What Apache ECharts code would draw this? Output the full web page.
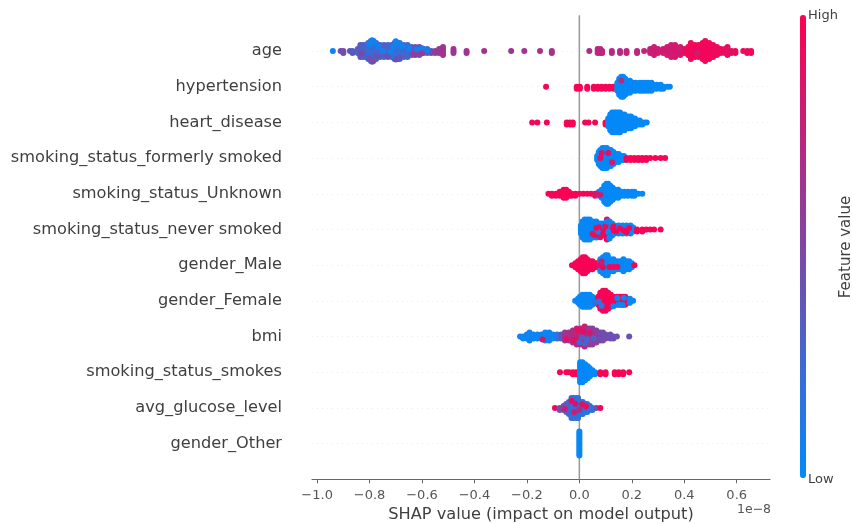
<!DOCTYPE html>
<html><head><meta charset="utf-8">
<style>html,body{margin:0;padding:0;background:#fff}#c{width:852px;height:524px;filter:blur(0.45px)}</style>
<script src="https://cdn.jsdelivr.net/npm/echarts@6/dist/echarts.min.js"></script>
</head><body><div id="c"></div>
<script>
const features = ['age','hypertension','heart_disease','smoking_status_formerly smoked','smoking_status_Unknown','smoking_status_never smoked','gender_Male','gender_Female','bmi','smoking_status_smokes','avg_glucose_level','gender_Other'];
const xTicks = [-1.0,-0.8,-0.6,-0.4,-0.2,0.0,0.2,0.4,0.6];
const stackStep = 0.056;

// columns: [SHAP value, dots stacked in the column, feature value 0-1]
const ageColumns = [[-0.94,1,.05],[-0.91,1,.45],[-0.90,2,.45],[-0.875,1,.38],[-0.865,2,.35],[-0.845,3,.3],[-0.835,7,.38],[-0.825,7,.3],[-0.815,7,.28],[-0.805,9,.25],[-0.795,11,.2],[-0.785,11,.22],[-0.775,9,.25],[-0.76,7,.3],[-0.745,7,.32],[-0.73,7,.25],[-0.715,7,.3],[-0.705,9,.2],[-0.695,9,.2],[-0.685,9,.2],[-0.67,7,.25],[-0.655,7,.25],[-0.64,5,.33],[-0.625,5,.4],[-0.61,5,.45],[-0.595,3,.35],[-0.58,3,.3],[-0.565,2,.4],[-0.55,2,.55],[-0.535,3,.6],[-0.52,5,.63],[-0.48,3,.62],[-0.43,2,.63],[-0.363,1,.63],[-0.26,1,.63],[-0.21,1,.63],[-0.15,1,.65],[-0.105,2,.65],[0.038,1,.68],[0.07,3,.72],[0.08,3,.72],[0.087,2,.75],[0.124,2,.7],[0.155,2,.72],[0.18,2,.75],[0.22,2,.72],[0.247,1,.75],[0.27,3,.78],[0.285,5,.8],[0.30,3,.8],[0.32,3,.82],[0.335,5,.82],[0.35,7,.8],[0.365,7,.83],[0.385,5,.85],[0.40,3,.88],[0.415,5,.95],[0.425,9,.94],[0.44,7,.95],[0.455,7,.94],[0.47,9,.95],[0.48,11,.95],[0.495,9,.95],[0.51,7,.94],[0.525,5,.93],[0.54,3,.93],[0.555,3,.92],[0.565,5,.9],[0.58,2,.9],[0.595,2,.93],[0.625,1,.92],[0.64,2,.92],[0.655,2,.95]];
const ageAccents = [[-.79,-.3,.05],[-.78,-.24,.08],[-.80,-.18,.06],[-.765,-.12,.08],[-.70,-.27,.05],[-.69,-.2,.07],[-.675,-.14,.06],[-.71,-.12,.08],[-.65,-.08,.07],[-.62,-.05,.1],[-.60,-.08,.08],[-.58,-.03,.08],[-.79,.3,.5],[-.80,.2,.45],[-.775,.14,.42],[-.70,.24,.45],[-.685,.18,.42],[-.73,.14,.4],[-.63,.1,.58],[-.6,.06,.58],[-.83,.08,.48],[-.75,0,.1],[-.72,.03,.1],[.45,.06,.78],[.38,-.08,.8]];

const hypertensionColumns = [[-0.127,1,.97],[-0.01,2,.97],[0.002,2,.97],[0.03,2,.97],[0.055,2,.97],[0.07,2,.97],[0.085,2,.97],[0.10,2,.97],[0.115,2,.97],[0.13,2,.97],[0.145,5,.02],[0.152,9,.02],[0.16,11,.02],[0.167,11,.02],[0.175,9,.02],[0.183,7,.02],[0.193,7,.02],[0.205,5,.02],[0.215,5,.02],[0.23,5,.02],[0.24,5,.02],[0.25,5,.02],[0.262,5,.02],[0.275,5,.02],[0.285,3,.02],[0.295,3,.02],[0.31,3,.02],[0.32,2,.02],[0.335,1,.02],[0.345,1,.02]];
const hypertensionAccents = [[.16,-.17,.7]];

const heartColumns = [[-0.18,1,.97],[-0.16,1,.97],[-0.124,1,.97],[-0.048,2,.97],[-0.036,2,.97],[-0.025,2,.97],[0.022,1,.97],[0.035,1,.97],[0.06,1,.97],[0.10,2,.97],[0.11,5,.02],[0.118,9,.02],[0.125,11,.02],[0.133,11,.02],[0.14,11,.02],[0.148,11,.02],[0.155,11,.02],[0.163,9,.02],[0.172,9,.02],[0.18,7,.02],[0.188,7,.02],[0.197,7,.02],[0.205,5,.02],[0.212,5,.02],[0.22,3,.02],[0.23,3,.02],[0.24,2,.02],[0.25,1,.02],[0.257,1,.02]];

const formerlyColumns = [[0.068,3,.02],[0.074,7,.02],[0.08,9,.02],[0.088,11,.02],[0.096,11,.02],[0.105,11,.02],[0.112,9,.02],[0.12,9,.02],[0.13,7,.02],[0.14,5,.02],[0.15,5,.02],[0.16,3,.02],[0.17,3,.02],[0.18,2,.97],[0.195,2,.97],[0.21,2,.97],[0.225,2,.97],[0.24,2,.97],[0.255,2,.97],[0.27,1,.97],[0.29,1,.97],[0.31,1,.97],[0.327,1,.97]];
const formerlyAccents = [[.085,-.14,.9],[.11,-.14,.92],[.125,.12,.85],[.08,0,.9]];

const unknownColumns = [[-0.118,1,.97],[-0.105,2,.97],[-0.09,2,.97],[-0.075,3,.97],[-0.06,5,.97],[-0.05,5,.97],[-0.04,3,.97],[-0.03,2,.97],[-0.015,2,.97],[0.0,1,.97],[0.015,1,.97],[0.03,1,.97],[0.045,1,.97],[0.06,2,.9],[0.075,3,.1],[0.085,5,.02],[0.095,9,.02],[0.103,11,.02],[0.11,11,.02],[0.118,9,.02],[0.127,7,.02],[0.135,5,.02],[0.148,5,.02],[0.16,3,.02],[0.172,3,.02],[0.185,3,.02],[0.2,3,.02],[0.21,3,.02],[0.225,1,.02],[0.24,1,.02]];
const unknownAccents = [[.065,0,.85],[.08,.03,.8]];

const neverColumns = [[0.006,5,.03],[0.012,9,.03],[0.02,11,.03],[0.03,11,.03],[0.04,11,.03],[0.052,9,.03],[0.065,9,.04],[0.08,7,.05],[0.09,7,.05],[0.105,11,.97],[0.115,9,.04],[0.125,7,.04],[0.135,5,.04],[0.15,5,.04],[0.165,5,.04],[0.18,5,.04],[0.195,5,.03],[0.205,3,.03],[0.22,2,.97],[0.24,2,.97],[0.255,1,.97],[0.27,1,.97],[0.285,1,.97],[0.31,1,.97]];
const neverAccents = [[.06,.16,.9],[.075,-.06,.92],[.08,.22,.85],[.085,.05,.95],[.095,.14,.97],[.1,-.1,.97],[.125,.02,.97],[.14,.06,.97],[.155,-.03,.96],[.17,.03,.97],[.19,-.04,.97],[.105,-.22,.04],[.115,.25,.03],[.07,.05,.05],[.18,.07,.97],[.05,.12,.9],[.065,-.04,.9],[.13,-.08,.97],[.11,.07,.03]];

const maleColumns = [[-0.028,1,.97],[-0.015,3,.97],[-0.005,5,.97],[0.005,7,.97],[0.013,9,.97],[0.022,9,.97],[0.03,7,.97],[0.04,5,.97],[0.05,5,.97],[0.06,3,.97],[0.07,3,.97],[0.08,7,.03],[0.09,9,.03],[0.1,11,.03],[0.108,11,.03],[0.118,7,.03],[0.13,7,.03],[0.143,5,.03],[0.155,5,.03],[0.168,7,.03],[0.18,5,.03],[0.19,5,.03],[0.2,3,.03],[0.21,1,.97]];
const maleAccents = [[.09,.06,.97],[.115,.05,.97],[.13,.05,.96],[.145,.05,.95],[.075,0,.9],[.085,-.1,.85]];

const femaleColumns = [[-0.016,1,.03],[-0.005,3,.03],[0.002,5,.03],[0.012,7,.03],[0.022,7,.03],[0.03,7,.03],[0.04,7,.03],[0.05,5,.03],[0.062,3,.03],[0.072,5,.97],[0.08,9,.97],[0.09,11,.97],[0.1,11,.97],[0.11,9,.97],[0.12,7,.97],[0.13,5,.97],[0.143,5,.97],[0.155,5,.97],[0.165,5,.97],[0.175,5,.97],[0.185,3,.97],[0.193,3,.03],[0.205,1,.03]];
const femaleAccents = [[.085,.14,.1],[.075,.02,.15],[.13,.15,.04],[.15,.1,.05],[.145,-.08,.05],[.17,-.09,.04],[.165,.12,.05],[.06,.05,.2]];

const bmiColumns = [[-0.226,1,.06],[-0.215,2,.06],[-0.2,3,.06],[-0.19,5,.05],[-0.175,3,.05],[-0.16,3,.05],[-0.145,3,.06],[-0.13,5,.05],[-0.115,5,.05],[-0.1,3,.06],[-0.085,3,.12],[-0.07,3,.35],[-0.055,5,.6],[-0.04,5,.65],[-0.025,7,.68],[-0.01,9,.75],[0.005,9,.72],[0.02,11,.8],[0.03,9,.68],[0.04,9,.6],[0.05,9,.55],[0.065,7,.55],[0.08,5,.48],[0.09,5,.45],[0.1,3,.45],[0.118,3,.42],[0.13,2,.42],[0.143,1,.42],[0.19,1,.42]];
const bmiAccents = [[-.02,.1,.9],[-.005,-.18,.9],[.01,.02,.3],[.015,-.14,.92],[.02,.2,.3],[.03,.08,.25],[.0,.16,.25],[-.05,.07,.9],[.04,-.1,.85],[-.14,.08,.9],[.055,.05,.3]];

const smokesColumns = [[-0.074,1,.97],[-0.05,1,.97],[-0.04,1,.97],[-0.025,2,.97],[-0.012,2,.97],[0.003,11,.02],[0.012,11,.02],[0.022,9,.02],[0.032,7,.02],[0.04,5,.02],[0.05,3,.02],[0.06,2,.02],[0.08,2,.97],[0.1,2,.97],[0.135,2,.97],[0.15,2,.97],[0.167,2,.97],[0.19,1,.97]];

const glucoseColumns = [[-0.093,1,.97],[-0.075,2,.4],[-0.06,3,.5],[-0.05,5,.35],[-0.04,7,.3],[-0.03,11,.25],[-0.022,11,.15],[-0.013,11,.18],[-0.005,11,.2],[0.005,7,.12],[0.013,7,.18],[0.022,5,.18],[0.03,5,.15],[0.04,3,.18],[0.05,2,.2],[0.065,1,.4],[0.08,1,.97]];
const glucoseAccents = [[-.03,-.2,.9],[-.015,-.12,.92],[.01,-.1,.9],[.025,-.05,.92],[-.02,.12,.8],[-.055,.03,.8],[.0,.05,.7]];

const otherColumns = [[0.0,13,.03]];

const rowColumns = [ageColumns,hypertensionColumns,heartColumns,formerlyColumns,unknownColumns,neverColumns,maleColumns,femaleColumns,bmiColumns,smokesColumns,glucoseColumns,otherColumns];
const rowAccents = [ageAccents,hypertensionAccents,[],formerlyAccents,unknownAccents,neverAccents,maleAccents,femaleAccents,bmiAccents,[],glucoseAccents,[]];

const points = [];
rowColumns.forEach((cols,row)=>{
  cols.forEach(([x,n,f])=>{
    for(let k=0;k<n;k++){
      const off = Math.ceil(k/2)*(k%2*2-1)*stackStep;
      points.push([x,row+off,f]);
    }
  });
  rowAccents[row].forEach(([x,dy,f])=>points.push([x,row+dy,f]));
});
const zeroLine = [[0,-1],[0,12]];

const textColor = '#3f3f3f';
const chart = echarts.init(document.getElementById('c'),null,{renderer:'canvas'});
chart.setOption({
  animation:false,
  backgroundColor:'#fff',
  grid:{left:312,right:82,top:15.3,bottom:44.7,containLabel:false,outerBoundsMode:'none'},
  xAxis:{type:'value',min:-1.0195,max:0.727,
    name:'SHAP value (impact on model output)',nameLocation:'middle',nameGap:26,
    nameTextStyle:{fontFamily:'DejaVu Sans',fontSize:16.2,color:textColor},
    axisLine:{onZero:false,lineStyle:{color:'#666',width:1.2}},
    axisTick:{show:true,length:4,customValues:xTicks,lineStyle:{color:'#666',width:1}},
    axisLabel:{customValues:xTicks,fontFamily:'DejaVu Sans',fontSize:13,color:'#555',margin:9.5,
      formatter:v=>(v<0?'\u2212':'')+Math.abs(v).toFixed(1)},
    splitLine:{show:false}},
  yAxis:{type:'value',inverse:true,min:-1,max:12,interval:1,
    axisLine:{show:false},axisTick:{show:false},
    axisLabel:{fontFamily:'DejaVu Sans',fontSize:16.2,color:textColor,margin:30,padding:[0,0,4,0],
      customValues:features.map((_,i)=>i),formatter:v=>features[v]||''},
    splitLine:{show:true,showMinLine:false,showMaxLine:false,lineStyle:{color:'#e4e4e4',width:0.8,type:[1,4]}}},
  visualMap:{type:'continuous',show:true,dimension:2,min:0,max:1,seriesIndex:0,calculable:false,
    left:785,top:0,itemWidth:6,itemHeight:463,
    inRange:{color:['#008bfb','#ff0051']}},
  series:[
    {type:'scatter',data:points,symbolSize:6,itemStyle:{opacity:1},z:3,silent:true},
    {type:'line',data:zeroLine,symbol:'none',silent:true,z:1,lineStyle:{color:'#999',width:1.5}}
  ],
  graphic:[
    {type:'text',left:808,top:9,style:{text:'High',font:'13px "DejaVu Sans"',fill:textColor}},
    {type:'text',left:808,top:473,style:{text:'Low',font:'13px "DejaVu Sans"',fill:textColor}},
    {type:'text',x:846,y:247,rotation:Math.PI/2,style:{text:'Feature value',font:'15px "DejaVu Sans"',fill:textColor,align:'center',verticalAlign:'middle'}},
    {type:'text',left:737,top:503,style:{text:'1e\u22128',font:'12.5px "DejaVu Sans"',fill:'#555'}}
  ]
});
</script></body></html>
